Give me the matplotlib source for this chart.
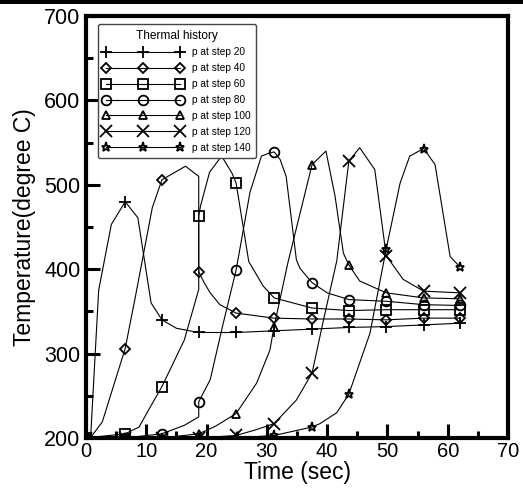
import matplotlib
matplotlib.use("Agg")
import matplotlib.pyplot as plt
from matplotlib.ticker import MultipleLocator
from matplotlib.patches import Rectangle

plt.rcParams['font.family'] = ['Liberation Sans', 'DejaVu Sans']

# marker times (every 20 steps)
mark_times = [0, 6.5, 12.6, 18.7, 24.9, 31.2, 37.5, 43.6, 49.8, 56.0, 62.0]

time_20 = [0, 0.8, 2.1, 4.2, 6.5, 8.6, 10.8, 12.6, 15.0, 18.7, 24.9, 31.2, 37.5, 43.6, 49.8, 56.0, 62.0]
temp_20 = [200, 205, 375, 453, 480, 461, 360, 340, 330, 325, 325, 327, 329, 331, 332, 334, 336]

time_40 = [0, 0.8, 2.7, 6.5, 8.1, 11.0, 12.6, 16.5, 18.7, 18.7, 19.6, 20.6, 22.2, 24.9, 31.2, 37.5, 43.6, 49.8, 56.0, 62.0]
temp_40 = [200, 201, 219, 306, 364, 473, 506, 522, 510, 397, 384, 372, 358, 348, 342, 341, 341, 340, 342, 342]

time_60 = [0, 6.5, 8.8, 10.6, 12.6, 16.3, 18.7, 18.7, 19.0, 20.5, 22.5, 24.2, 24.9, 27.0, 29.4, 31.2, 37.5, 43.6, 49.8, 56.0, 62.0]
temp_60 = [200, 205, 213, 236, 261, 316, 376, 463, 475, 515, 534, 514, 502, 409, 380, 366, 354, 351, 352, 352, 352]

time_80 = [0, 6.5, 12.6, 16.3, 18.7, 18.7, 20.6, 22.7, 24.9, 27.2, 29.1, 30.2, 31.2, 32.2, 33.2, 34.9, 35.5, 37.5, 40.0, 43.6, 49.8, 56.0, 62.0]
temp_80 = [200, 200, 205, 215, 225, 243, 269, 334, 399, 491, 534, 537, 539, 530, 510, 411, 401, 384, 372, 364, 362, 358, 357]

time_100 = [0, 6.5, 12.6, 18.7, 21.5, 24.9, 28.3, 30.5, 31.2, 33.5, 37.5, 39.8, 41.3, 42.7, 43.6, 45.4, 49.8, 56.0, 62.0]
temp_100 = [200, 200, 200, 205, 214, 229, 265, 304, 332, 408, 524, 540, 487, 419, 405, 386, 372, 366, 365]

time_120 = [0, 6.5, 12.6, 18.7, 24.9, 28.3, 31.2, 34.9, 37.5, 39.4, 41.6, 43.6, 45.4, 47.9, 49.8, 52.6, 56.0, 62.0]
temp_120 = [200, 200, 200, 200, 203, 210, 217, 245, 277, 340, 410, 528, 544, 518, 416, 388, 374, 372]

time_140 = [0, 6.5, 12.6, 18.7, 24.9, 31.2, 37.5, 38.8, 41.6, 43.6, 47.1, 49.8, 52.1, 53.7, 56.0, 57.9, 60.4, 62.0]
temp_140 = [200, 200, 200, 200, 200, 203, 213, 217, 230, 252, 324, 424, 502, 534, 543, 524, 415, 403]

labels = ["p at step 20", "p at step 40", "p at step 60", "p at step 80",
          "p at step 100", "p at step 120", "p at step 140"]
series = [(time_20, temp_20), (time_40, temp_40), (time_60, temp_60), (time_80, temp_80),
          (time_100, temp_100), (time_120, temp_120), (time_140, temp_140)]
markers = ['+', 'D', 's', 'o', '^', 'x', '*']
msizes = [9, 5.5, 7, 7, 5.5, 8, 6.5]


def mark_idx(ts):
    idx = []
    for m in mark_times:
        hits = [i for i, v in enumerate(ts) if abs(v - m) < 1e-9]
        if hits:
            idx.append(hits[-1])
    return idx


fig = plt.figure(figsize=(5.23, 4.97), dpi=100)
ax = fig.add_axes([86/523, 1-438/497, (508-86)/523, (438-16)/497])

for (ts, vs), lab, mk, ms in zip(series, labels, markers, msizes):
    ax.plot(ts, vs, color='black', lw=0.8, marker=mk, ms=ms, mfc='none', mec='black',
            mew=1.3, markevery=mark_idx(ts), label=lab)

ax.set_xlim(0, 70)
ax.set_ylim(200, 700)
ax.xaxis.set_major_locator(MultipleLocator(10))
ax.xaxis.set_minor_locator(MultipleLocator(5))
ax.yaxis.set_major_locator(MultipleLocator(100))
ax.yaxis.set_minor_locator(MultipleLocator(50))
ax.tick_params(which='both', direction='in', top=False, right=False, width=2.2)
ax.tick_params(which='major', length=10, pad=3)
ax.tick_params(axis='x', which='major', labelsize=14.5)
ax.tick_params(axis='y', which='major', labelsize=15.5, pad=4)
ax.tick_params(which='minor', length=5)
for sp in ax.spines.values():
    sp.set_linewidth(3)

ax.set_xlabel("Time (sec)", fontsize=16.5, labelpad=0)
ax.set_ylabel("Temperature(degree C)", fontsize=16.5, labelpad=6)

leg = ax.legend(loc='upper left', bbox_to_anchor=(0.028, 0.981), borderaxespad=0,
                title="Thermal history", fontsize=7.3, title_fontsize=8.6,
                numpoints=3, handlelength=7.9, handletextpad=0.8, labelspacing=0.58,
                fancybox=True, framealpha=1, edgecolor='#444444', borderpad=0.55)
leg.get_frame().set_linewidth(1.0)

fig.add_artist(Rectangle((0, 1-4/497), 1, 4/497, transform=fig.transFigure,
                         color='black', lw=0))

fig.savefig("out.png", dpi=100)
